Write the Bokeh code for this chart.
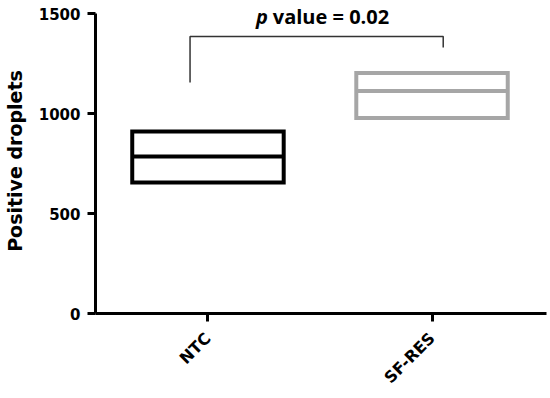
import math
from bokeh.plotting import figure
from bokeh.models import FixedTicker, ColumnDataSource
from bokeh.core.properties import value
from bokeh.embed import file_html
from bokeh.resources import INLINE

# ---- data ----
categories = ["NTC", "SF-RES"]
positions = [0, 1]
q1 = [655, 977]
median = [785, 1112]
q3 = [910, 1203]
box_colors = ["#000000", "#a6a6a6"]
y_ticks = [0, 500, 1000, 1500]
p_label_italic = "p"
p_label_rest = "value = 0.02"
# bracket (data coords): left x, right x, top y, left foot y, right foot y
bracket_x = [-0.08, 1.05]
bracket_top = 1385
bracket_feet = [1155, 1330]

half_w = 0.338

p = figure(width=550, height=398, output_backend="svg", toolbar_location=None,
           x_range=(-0.502, 1.511), y_range=(0, 1525),
           min_border_left=93, min_border_right=4, min_border_top=8,
           min_border_bottom=85)
p.xgrid.visible = False
p.ygrid.visible = False
p.outline_line_color = None
p.background_fill_color = "white"
p.border_fill_color = "white"

src = ColumnDataSource(dict(
    left=[x - half_w for x in positions], right=[x + half_w for x in positions],
    top=q3, bottom=q1, med=median, color=box_colors))
p.quad(left="left", right="right", top="top", bottom="bottom", source=src,
       fill_color=None, line_color="color", line_width=4, line_join="miter")
p.segment(x0="left", x1="right", y0="med", y1="med", source=src,
          line_color="color", line_width=4)

# significance bracket
p.line(x=[bracket_x[0], bracket_x[0], bracket_x[1], bracket_x[1]],
       y=[bracket_feet[0], bracket_top, bracket_top, bracket_feet[1]],
       line_color="#333333", line_width=1.5)

split_x = 0.267
p.text(x=[split_x], y=[1485], text=[p_label_italic], text_align="right",
       text_baseline="middle", text_font=value("Open Sans"),
       text_font_style="bold italic", text_font_size="20px", text_color="#000000")
p.text(x=[split_x], y=[1485], text=[p_label_rest], text_align="left",
       text_baseline="middle", text_font=value("Open Sans"), x_offset=5,
       text_font_style="bold", text_font_size="20px", text_color="#000000")

# axes
for ax in (p.xaxis[0], p.yaxis[0]):
    ax.axis_line_width = 3
    ax.major_tick_line_width = 3
    ax.major_tick_out = 8
    ax.major_tick_in = 0
    ax.minor_tick_line_color = None
    ax.major_label_text_font = "DejaVu Sans"
    ax.major_label_text_font_style = "bold"
    ax.major_label_text_font_size = "15px"
    ax.major_label_text_color = "#000000"
    ax.axis_line_color = "#000000"
    ax.major_tick_line_color = "#000000"

p.yaxis.ticker = FixedTicker(ticks=y_ticks)
p.yaxis.bounds = (0, 1500)
p.yaxis.axis_label = "Positive droplets"
p.yaxis.axis_label_text_font = "DejaVu Sans"
p.yaxis.axis_label_text_font_style = "bold"
p.yaxis.axis_label_text_font_size = "19px"
p.yaxis.axis_label_text_color = "#000000"
p.yaxis.axis_label_standoff = 10
p.yaxis.major_label_standoff = 7

p.xaxis.ticker = FixedTicker(ticks=positions)
p.xaxis.major_label_overrides = {pos: c for pos, c in zip(positions, categories)}
p.xaxis.major_label_orientation = math.pi / 4
p.xaxis.major_label_standoff = 14
p.xaxis.major_label_text_font_size = "16px"

open("out.html", "w").write(file_html(p, INLINE))
